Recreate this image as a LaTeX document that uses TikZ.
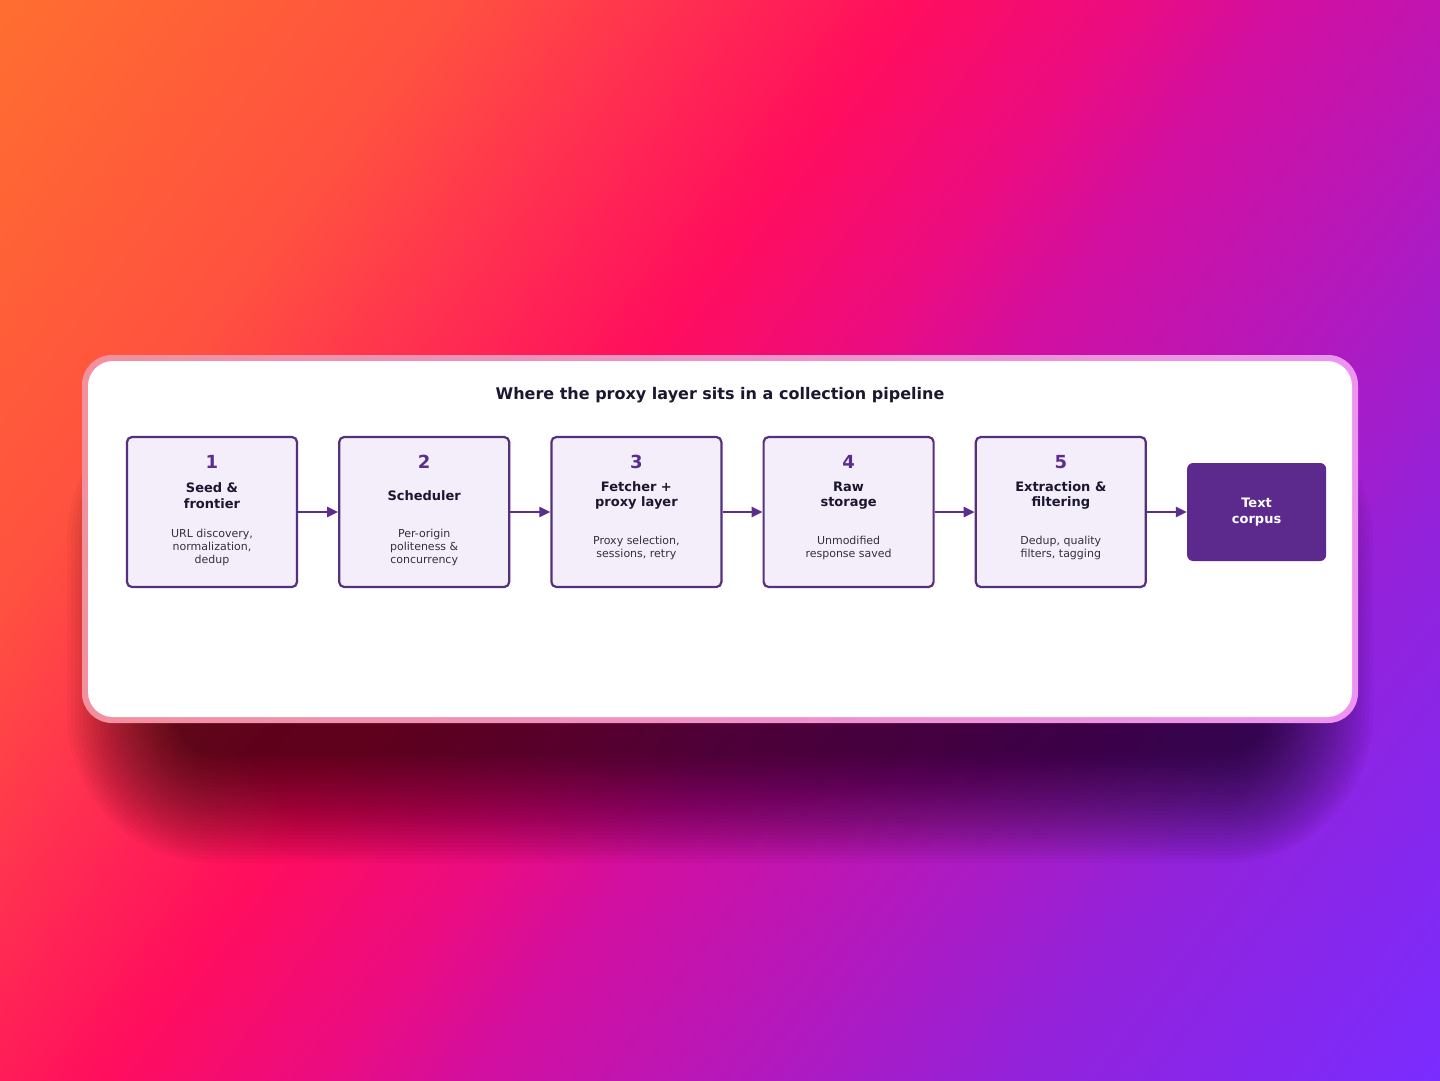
\documentclass[tikz,border=0pt]{standalone}
\usepackage{fontspec}
\setmainfont{DejaVu Sans}
\usetikzlibrary{positioning,arrows.meta}

% 背景颜色
\definecolor{bgA}{HTML}{FF6E30}
\definecolor{bgB}{HTML}{FF5040}
\definecolor{bgC}{HTML}{FF3050}
\definecolor{bgD}{HTML}{FF0D5E}
\definecolor{bgE}{HTML}{EC0C80}
\definecolor{bgF}{HTML}{D20FA0}
\definecolor{bgG}{HTML}{B418BC}
\definecolor{bgH}{HTML}{9322DA}
\definecolor{bgI}{HTML}{7A2CFF}
% 卡片与方框颜色
\definecolor{cardL}{HTML}{F2909E}
\definecolor{cardR}{HTML}{EC94F0}
\definecolor{stageline}{HTML}{55307F}
\definecolor{stagefill}{HTML}{F3EEF9}
\definecolor{numcolor}{HTML}{5B2D8E}
\definecolor{headcolor}{HTML}{1C1730}
\definecolor{subcolor}{HTML}{33303F}
\definecolor{corpusfill}{HTML}{5C2A8C}

\pgfdeclarehorizontalshading{bgshade}{100bp}{%
  color(0bp)=(bgA); color(15bp)=(bgA); color(29.4bp)=(bgB); color(36bp)=(bgC);%
  color(43.5bp)=(bgD); color(50bp)=(bgE); color(55bp)=(bgF); color(63.3bp)=(bgG);%
  color(71.7bp)=(bgH); color(85bp)=(bgI); color(100bp)=(bgI)}

\begin{document}
\begin{tikzpicture}[x=1pt, y=-1pt,
    stage/.style={draw=stageline, line width=2.2pt, fill=stagefill, rounded corners=5pt,
      minimum width=170pt, minimum height=150pt, inner sep=0pt},
    stagenum/.style={text=numcolor, font=\bfseries\fontsize{18}{20}\selectfont},
    stagehead/.style={text=headcolor, align=center, font=\bfseries\fontsize{13}{15.5}\selectfont},
    stagesub/.style={text=subcolor, align=center, font=\fontsize{11}{13}\selectfont},
    flow/.style={draw=numcolor, line width=2.5pt, -{Triangle[length=11pt,width=10pt]}}]

    \useasboundingbox (0,0) rectangle (1440,1080);

    % 背景渐变
    \shade[shading=bgshade, shading angle=-36.87] (0,0) rectangle (1440,1080);

    % 卡片阴影
    \foreach \i [evaluate=\i as \r using 40+4*\i] in {0,...,27}
      \fill[black, opacity=0.03, rounded corners=\r pt]
        (175-\i*4, 500-\i*4) rectangle (1265+\i*4, 755+\i*4);

    % 卡片
    \shade[left color=cardL, right color=cardR, rounded corners=30pt] (82,355) rectangle (1358,723);
    \fill[white, rounded corners=25pt] (88,361) rectangle (1352,717);

    % 标题
    \node[text=headcolor, font=\bfseries\fontsize{16}{19}\selectfont] (title) at (720,395)
      {Where the proxy layer sits in a collection pipeline};

    % 五个阶段
    \node[stage] (S1) at (212,512) {};
    \node[stage, right=40pt of S1] (S2) {};
    \node[stage, right=40pt of S2] (S3) {};
    \node[stage, right=40pt of S3] (S4) {};
    \node[stage, right=40pt of S4] (S5) {};
    \node[fill=corpusfill, rounded corners=6pt, minimum width=139pt, minimum height=98pt,
      right=40pt of S5, text=white, align=center,
      font=\bfseries\fontsize{13}{16.5}\selectfont] (corpus) {Text\\corpus};

    % 阶段文字
    \foreach \n/\head/\sub in {%
        1/{Seed \&\\frontier}/{URL discovery,\\normalization,\\dedup},
        2/{Scheduler}/{Per-origin\\politeness \&\\concurrency},
        3/{Fetcher +\\proxy layer}/{Proxy selection,\\sessions, retry},
        4/{Raw\\storage}/{Unmodified\\response saved},
        5/{Extraction \&\\filtering}/{Dedup, quality\\filters, tagging}} {
      \node[stagenum] (N\n) at ([yshift=-26pt]S\n.north) {\n};
      \node[stagehead] (H\n) at ([yshift=16.5pt]S\n.center) {\head};
      \node[stagesub] (D\n) at ([yshift=-35.5pt]S\n.center) {\sub};
    }

    % 连接箭头
    \foreach \a/\b in {S1/S2, S2/S3, S3/S4, S4/S5, S5/corpus}
      \draw[flow] (\a) -- (\b);

\end{tikzpicture}
\end{document}
